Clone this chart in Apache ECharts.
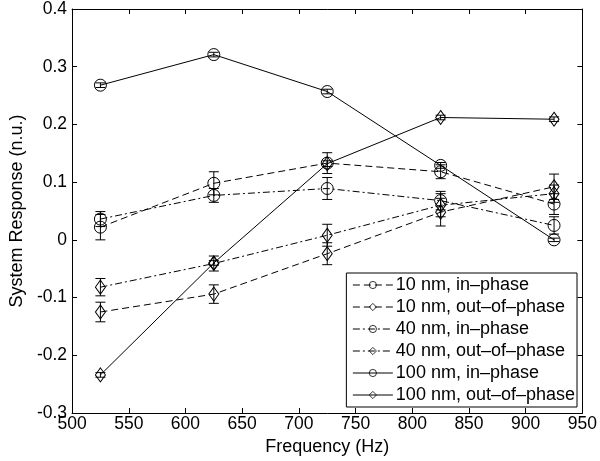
<!DOCTYPE html>
<html><head><meta charset="utf-8">
<script src="https://cdn.jsdelivr.net/npm/echarts@6/dist/echarts.min.js"></script>
<style>html,body{margin:0;padding:0;background:#fff}#c{width:600px;height:461px}</style>
</head><body><div id="c"></div>
<script>
const freqs = [525, 625, 725, 825, 925];
const in10 = [0.022, 0.098, 0.133, 0.118, 0.062];
const in10Err = [0.022, 0.020, 0.018, 0.012, 0.018];
const out10 = [-0.125, -0.094, -0.024, 0.048, 0.092];
const out10Err = [0.017, 0.016, 0.019, 0.024, 0.022];
const in40 = [0.036, 0.077, 0.089, 0.068, 0.025];
const in40Err = [0.013, 0.012, 0.019, 0.016, 0.015];
const out40 = [-0.082, -0.041, 0.008, 0.060, 0.080];
const out40Err = [0.015, 0.013, 0.019, 0.020, 0.015];
const in100 = [0.268, 0.321, 0.257, 0.129, 0.000];
const in100Err = [0.004, 0.004, 0.004, 0.005, 0.003];
const out100 = [-0.234, -0.040, 0.132, 0.212, 0.209];
const out100Err = [0.004, 0.004, 0.005, 0.004, 0.004];
const names = ['10 nm, in\u2013phase','10 nm, out\u2013of\u2013phase','40 nm, in\u2013phase','40 nm, out\u2013of\u2013phase','100 nm, in\u2013phase','100 nm, out\u2013of\u2013phase'];

const FONT = 'Liberation Sans, Arial, Helvetica, sans-serif';
const dashA = [7, 4];
const dashDot = [7, 3, 2, 3];
const defs = [
  {v: in10, e: in10Err, sym: 'circle', dash: dashA},
  {v: out10, e: out10Err, sym: 'diamond', dash: dashA},
  {v: in40, e: in40Err, sym: 'circle', dash: dashDot},
  {v: out40, e: out40Err, sym: 'diamond', dash: dashDot},
  {v: in100, e: in100Err, sym: 'circle', dash: 'solid'},
  {v: out100, e: out100Err, sym: 'diamond', dash: 'solid'}
];

const series = [];
defs.forEach((d, i) => {
  series.push({
    name: names[i], type: 'line',
    data: freqs.map((f, k) => [f, d.v[k]]),
    symbol: d.sym,
    symbolSize: d.sym === 'circle' ? 12 : [10, 14],
    showAllSymbol: true,
    lineStyle: {color: '#000', width: 1, type: d.dash},
    itemStyle: {color: 'rgba(255,255,255,0)', borderColor: '#000', borderWidth: 1},
    emphasis: {disabled: true},
    animation: false, z: 3
  });
  series.push({
    name: names[i] + ' err', type: 'custom',
    data: freqs.map((f, k) => [f, d.v[k] - d.e[k], d.v[k] + d.e[k]]),
    renderItem: function (params, api) {
      const lo = api.coord([api.value(0), api.value(1)]);
      const hi = api.coord([api.value(0), api.value(2)]);
      const w = 5;
      const st = {stroke: '#000', lineWidth: 1};
      return {type: 'group', children: [
        {type: 'line', shape: {x1: lo[0], y1: lo[1], x2: hi[0], y2: hi[1]}, style: st},
        {type: 'line', shape: {x1: lo[0] - w, y1: lo[1], x2: lo[0] + w, y2: lo[1]}, style: st},
        {type: 'line', shape: {x1: hi[0] - w, y1: hi[1], x2: hi[0] + w, y2: hi[1]}, style: st}
      ]};
    },
    encode: {x: 0, y: [1, 2]},
    animation: false, z: 4, silent: true
  });
});

const chart = echarts.init(document.getElementById('c'), null, {renderer: 'canvas'});
const axisLine = {show: true, onZero: false, lineStyle: {color: '#000', width: 1}};
const tickIn = {show: true, inside: true, length: 5, lineStyle: {color: '#000'}};
chart.setOption({
  animation: false,
  backgroundColor: '#fff',
  textStyle: {fontFamily: FONT},
  grid: {left: 64, right: 16, top: 6, bottom: 45},
  legend: {
    data: names, orient: 'vertical', right: 23, top: 273,
    backgroundColor: '#fff', borderColor: '#000', borderWidth: 1,
    padding: [3, 2, 3, 6], itemGap: 4, itemWidth: 40, itemHeight: 9,
    lineStyle: {width: 1},
    itemStyle: {borderWidth: 0.8},
    textStyle: {fontFamily: FONT, fontSize: 18, lineHeight: 18, color: '#000', padding: [0, 0, 0, -2]},
    selectedMode: false
  },
  xAxis: [{
    type: 'value', min: 500, max: 950, interval: 50,
    name: 'Frequency (Hz)', nameLocation: 'middle', nameGap: 25,
    nameTextStyle: {fontFamily: FONT, fontSize: 18, color: '#000'},
    axisLine: axisLine, axisTick: tickIn, splitLine: {show: false},
    axisLabel: {fontFamily: FONT, fontSize: 17.5, color: '#000', margin: 2}
  }, {
    type: 'value', position: 'top', min: 500, max: 950, interval: 50,
    axisLine: axisLine, axisTick: tickIn, axisLabel: {show: false}, splitLine: {show: false}
  }],
  yAxis: [{
    type: 'value', min: -0.3, max: 0.4, interval: 0.1,
    name: 'System Response (n.u.)', nameLocation: 'middle', nameGap: 43, nameRotate: 90,
    nameTextStyle: {fontFamily: FONT, fontSize: 18, color: '#000'},
    axisLine: axisLine, axisTick: tickIn, splitLine: {show: false},
    axisLabel: {fontFamily: FONT, fontSize: 17.5, color: '#000', margin: 5,
      formatter: v => { const r = Math.round(v * 10) / 10; return r === 0 ? '0' : r.toFixed(1); }}
  }, {
    type: 'value', position: 'right', min: -0.3, max: 0.4, interval: 0.1,
    axisLine: axisLine, axisTick: tickIn, axisLabel: {show: false}, splitLine: {show: false}
  }],
  series: series
});
</script></body></html>
